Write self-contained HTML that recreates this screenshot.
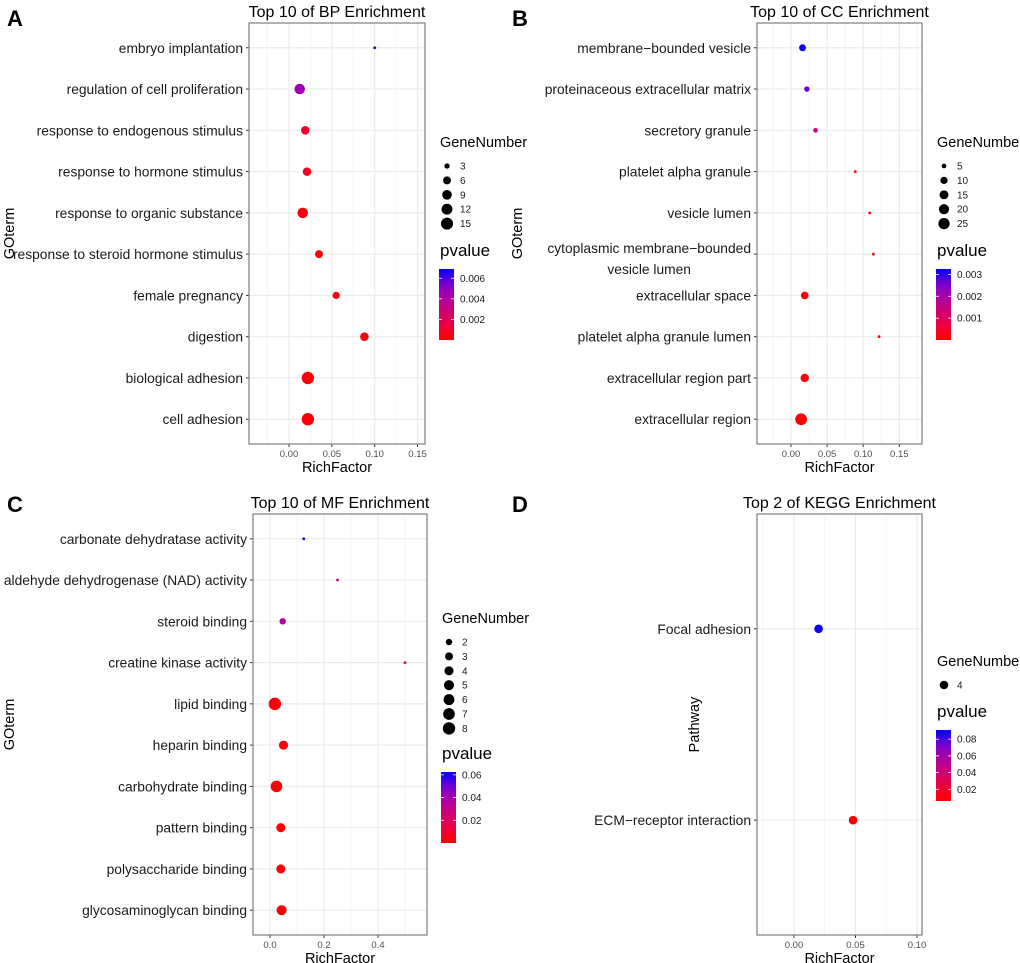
<!DOCTYPE html>
<html><head><meta charset="utf-8"><style>
html,body{margin:0;padding:0;background:#fff}
svg{display:block;font-family:"Liberation Sans",Arial,sans-serif}
</style></head><body>
<svg id="fig" width="1020" height="963" viewBox="0 0 1020 963" xmlns="http://www.w3.org/2000/svg"></svg>
<script>
// Panel A (BP)
const bpTerms = ["embryo implantation","regulation of cell proliferation","response to endogenous stimulus","response to hormone stimulus","response to organic substance","response to steroid hormone stimulus","female pregnancy","digestion","biological adhesion","cell adhesion"];
const bpRich = [0.100,0.0125,0.019,0.021,0.016,0.035,0.055,0.088,0.022,0.022];
const bpGenes = [2,11,7,7,11,6,5,7,16,16];
const bpP = [0.0068,0.0045,0.0012,0.0008,0.0003,0.0002,0.0002,0.0001,0.0001,0.0001];
const bpXTicks = [0,0.05,0.10,0.15];
const bpXTickLabels = ["0.00","0.05","0.10","0.15"];
const bpSizeBreaks = [3,6,9,12,15];
const bpPBreaks = [0.006,0.004,0.002];
// Panel B (CC)
const ccTerms = ["membrane\u2212bounded vesicle","proteinaceous extracellular matrix","secretory granule","platelet alpha granule","vesicle lumen","cytoplasmic membrane\u2212bounded|vesicle lumen","extracellular space","platelet alpha granule lumen","extracellular region part","extracellular region"];
const ccRich = [0.016,0.022,0.034,0.089,0.109,0.114,0.019,0.122,0.019,0.014];
const ccGenes = [9,6,5,4,4,4,11,4,13,28];
const ccP = [0.0032,0.0026,0.0013,0.0002,0.0001,0.0001,0.0001,0.0001,0.0001,0.00005];
const ccXTicks = [0,0.05,0.10,0.15];
const ccXTickLabels = ["0.00","0.05","0.10","0.15"];
const ccSizeBreaks = [5,10,15,20,25];
const ccPBreaks = [0.003,0.002,0.001];
// Panel C (MF)
const mfTerms = ["carbonate dehydratase activity","aldehyde dehydrogenase (NAD) activity","steroid binding","creatine kinase activity","lipid binding","heparin binding","carbohydrate binding","pattern binding","polysaccharide binding","glycosaminoglycan binding"];
const mfRich = [0.125,0.25,0.047,0.5,0.018,0.05,0.024,0.04,0.04,0.043];
const mfGenes = [1,1,2,1,8,4,7,4,4,5];
const mfP = [0.062,0.033,0.036,0.022,0.002,0.002,0.001,0.001,0.001,0.001];
const mfXTicks = [0,0.2,0.4];
const mfXTickLabels = ["0.0","0.2","0.4"];
const mfSizeBreaks = [2,3,4,5,6,7,8];
const mfPBreaks = [0.06,0.04,0.02];
// Panel D (KEGG)
const keggTerms = ["Focal adhesion","ECM\u2212receptor interaction"];
const keggRich = [0.020,0.048];
const keggGenes = [4,4];
const keggP = [0.090,0.007];
const keggXTicks = [0,0.05,0.10];
const keggXTickLabels = ["0.00","0.05","0.10"];
const keggSizeBreaks = [4];
const keggPBreaks = [0.08,0.06,0.04,0.02];

const NS="http://www.w3.org/2000/svg";
const svg=document.getElementById('fig');
function mk(tag,attrs,parent){const e=document.createElementNS(NS,tag);for(const k in attrs)e.setAttribute(k,attrs[k]);(parent||svg).appendChild(e);return e;}
function hex(c){return '#'+c.map(v=>Math.round(v).toString(16).padStart(2,'0')).join('');}
const stops=[[255,0,0],[230,0,75],[192,0,140],[140,0,200],[0,0,255]];
function pcol(t){t=Math.max(0,Math.min(1,t));const s=t*(stops.length-1);const i=Math.min(stops.length-2,Math.floor(s));const f=s-i;return hex(stops[i].map((v,k)=>v+(stops[i+1][k]-v)*f));}

function panel(cfg){
  const g=mk('g',{});
  
  
  const L=cfg.box[0],R=cfg.box[1],T=cfg.box[2],B=cfg.box[3];
  const xs=v=>cfg.x0+v*cfg.pxu;
  const n=cfg.terms.length;
  const unit=(B-T)/(n-1+1.2);
  const ys=i=>T+unit*(0.6+i);
  const lt=mk('text',{x:cfg.letter[0],y:cfg.letter[1],'font-size':22,'font-weight':'bold',fill:'#000'},g);lt.textContent=cfg.letterText;
  
  const tt=mk('text',{x:(L+R)/2,y:T-6,'font-size':16,'text-anchor':'middle',fill:'#000'},g);tt.textContent=cfg.title;
  
  const xminV=(L-cfg.x0)/cfg.pxu,xmaxV=(R-cfg.x0)/cfg.pxu;
  const step=cfg.xTicks[1]-cfg.xTicks[0];
  for(let v=Math.floor(xminV/step)*step-step/2;v<=xmaxV;v+=step){const x=xs(v);if(x>L&&x<R)mk('line',{x1:x,x2:x,y1:T,y2:B,stroke:'#f2f2f2','stroke-width':0.8},g);}
  cfg.xTicks.forEach((v,i)=>{const x=xs(v);mk('line',{x1:x,x2:x,y1:T,y2:B,stroke:'#ebebeb','stroke-width':1.2},g);
    mk('line',{x1:x,x2:x,y1:B,y2:B+3,stroke:'#333','stroke-width':1},g);
    const t=mk('text',{x:x,y:B+13,'font-size':9.5,'text-anchor':'middle',fill:'#4d4d4d'},g);t.textContent=cfg.xTickLabels[i];
    });
  cfg.terms.forEach((term,i)=>{const y=ys(i);mk('line',{x1:L,x2:R,y1:y,y2:y,stroke:'#ebebeb','stroke-width':1.2},g);
    mk('line',{x1:L-3,x2:L,y1:y,y2:y,stroke:'#333','stroke-width':1},g);
    const parts=term.split('|');
    if(parts.length===1){const t=mk('text',{x:L-6,y:y+5,'font-size':13.8,'text-anchor':'end',fill:'#1a1a1a'},g);t.textContent=term;
      }
    else{const t=mk('text',{x:L-6,y:y-1,'font-size':13.8,'text-anchor':'end',fill:'#1a1a1a'},g);t.textContent=parts[0];
      
      const w=t.getComputedTextLength();
      const t2=mk('text',{x:L-6-w/2,y:y+20,'font-size':13.8,'text-anchor':'middle',fill:'#1a1a1a'},g);t2.textContent=parts[1];
      }
  });
  const gmin=Math.min(...cfg.genes),gmax=Math.max(...cfg.genes);
  const rs=v=>gmax===gmin?4.3:cfg.rmin+(cfg.rmax-cfg.rmin)*Math.sqrt((v-gmin)/(gmax-gmin));
  const pmin=cfg.pLim[0],pmax=cfg.pLim[1];
  const pt=p=>(p-pmin)/(pmax-pmin);
  cfg.terms.forEach((term,i)=>{const c=mk('circle',{cx:xs(cfg.rich[i]),cy:ys(i),r:rs(cfg.genes[i]),fill:pcol(pt(cfg.p[i]))},g);
    });
  mk('rect',{x:L,y:T,width:R-L,height:B-T,fill:'none',stroke:'#7f7f7f','stroke-width':1.2},g);
  const xt=mk('text',{x:(L+R)/2,y:B+28,'font-size':14.5,'text-anchor':'middle',fill:'#000'},g);xt.textContent='RichFactor';
  
  const yt=mk('text',{x:0,y:0,'font-size':14.5,'text-anchor':'middle',fill:'#000',transform:`translate(${cfg.yTitleX},${(T+B)/2}) rotate(-90)`},g);yt.textContent=cfg.yTitle;
  
  // legend
  const lx=cfg.legX;let ly=cfg.legY;
  const gt=mk('text',{x:lx,y:ly,'font-size':14.5,fill:'#000'},g);gt.textContent='GeneNumber';
  
  cfg.sizeBreaks.forEach((b,i)=>{const cy=ly+19+i*14.4;
    const c=mk('circle',{cx:lx+7,cy:cy,r:rs(b),fill:'#000'},g);
    const t=mk('text',{x:lx+20,y:cy+3.5,'font-size':10,fill:'#1a1a1a'},g);t.textContent=b;
    });
  ly=cfg.pvY;
  const pt2=mk('text',{x:lx,y:ly,'font-size':17,fill:'#000'},g);pt2.textContent='pvalue';
  
  const cbT=ly+13,cbB=cbT+71,cbL=lx-1,cbW=15;
  const gid='grad'+cfg.letterText;
  const defs=mk('defs',{},g);const lg=mk('linearGradient',{id:gid,x1:0,y1:1,x2:0,y2:0},defs);
  for(let k=0;k<=10;k++)mk('stop',{offset:k/10,'stop-color':pcol(k/10)},lg);
  const cb=mk('rect',{x:cbL,y:cbT,width:cbW,height:cbB-cbT,fill:`url(#${gid})`},g);
  
  cfg.pBreaks.forEach(b=>{const y=cbB-(b-pmin)/(pmax-pmin)*(cbB-cbT);
    mk('line',{x1:cbL,x2:cbL+3,y1:y,y2:y,stroke:'#fff','stroke-width':0.8},g);
    mk('line',{x1:cbL+cbW-3,x2:cbL+cbW,y1:y,y2:y,stroke:'#fff','stroke-width':0.8},g);
    const t=mk('text',{x:cbL+cbW+6,y:y+3.5,'font-size':10,fill:'#1a1a1a'},g);t.textContent=b;
    });
}

panel({name:'panel-a-bp',letterText:'A',letter:[7,26],title:'Top 10 of BP Enrichment',box:[249,425,23,444],x0:289,pxu:857,
  terms:bpTerms,rich:bpRich,genes:bpGenes,p:bpP,xTicks:bpXTicks,xTickLabels:bpXTickLabels,rmin:1.4,rmax:6.2,pLim:[0,0.0069],
  sizeBreaks:bpSizeBreaks,pBreaks:bpPBreaks,yTitle:'GOterm',yTitleX:14,legX:440,legY:147,pvY:256});
panel({name:'panel-b-cc',letterText:'B',letter:[512,26],title:'Top 10 of CC Enrichment',box:[757,922,23,444],x0:791,pxu:722,
  terms:ccTerms,rich:ccRich,genes:ccGenes,p:ccP,xTicks:ccXTicks,xTickLabels:ccXTickLabels,rmin:1.4,rmax:5.9,pLim:[0,0.00325],
  sizeBreaks:ccSizeBreaks,pBreaks:ccPBreaks,yTitle:'GOterm',yTitleX:522,legX:937,legY:147,pvY:256});
panel({name:'panel-c-mf',letterText:'C',letter:[7,512],title:'Top 10 of MF Enrichment',box:[253,427,514,935],x0:270,pxu:270,
  terms:mfTerms,rich:mfRich,genes:mfGenes,p:mfP,xTicks:mfXTicks,xTickLabels:mfXTickLabels,rmin:1.4,rmax:6.2,pLim:[0,0.0625],
  sizeBreaks:mfSizeBreaks,pBreaks:mfPBreaks,yTitle:'GOterm',yTitleX:14,legX:442,legY:623,pvY:759});
panel({name:'panel-d-kegg',letterText:'D',letter:[512,512],title:'Top 2 of KEGG Enrichment',box:[757,922,514,935],x0:794,pxu:1230,
  terms:keggTerms,rich:keggRich,genes:keggGenes,p:keggP,xTicks:keggXTicks,xTickLabels:keggXTickLabels,rmin:4.3,rmax:4.3,pLim:[0.006,0.091],
  sizeBreaks:keggSizeBreaks,pBreaks:keggPBreaks,yTitle:'Pathway',yTitleX:699,legX:937,legY:666,pvY:717});
</script>
</body></html>
